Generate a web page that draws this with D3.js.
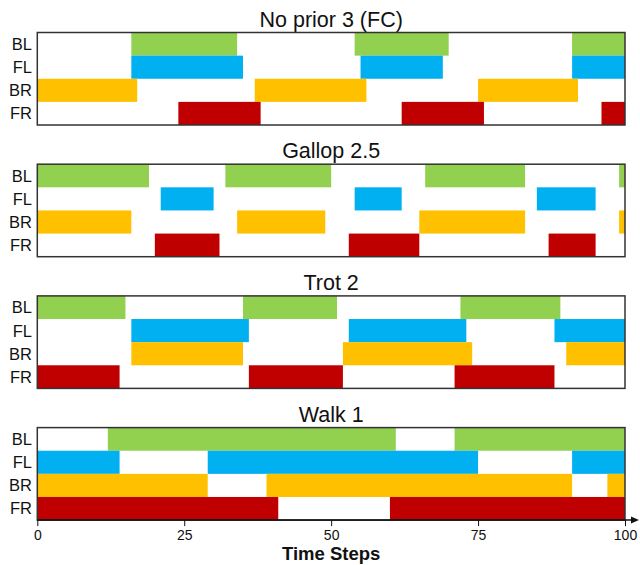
<!DOCTYPE html>
<html>
<head>
<meta charset="utf-8">
<script src="https://cdn.jsdelivr.net/npm/d3@7"></script>
<style>
  html, body { margin: 0; padding: 0; background: #fff; }
  svg { display: block; font-family: "Liberation Sans", Arial, sans-serif; }
</style>
</head>
<body>
<svg id="chart" width="640" height="565"></svg>
<script>
// ---- data ----
const legs = ["BL", "FL", "BR", "FR"];
const legColors = ["#92D050", "#00B0F0", "#FFC000", "#C00000"];
const panelTitles = ["No prior 3 (FC)", "Gallop 2.5", "Trot 2", "Walk 1"];
const xTicks = [0, 25, 50, 75, 100];
const xLabel = "Time Steps";

// stance intervals [start, end] per leg (BL, FL, BR, FR)
const noPrior = [
  [[16, 34], [54, 70], [91, 100]],
  [[16, 35], [55, 69], [91, 100]],
  [[0, 17], [37, 56], [75, 92]],
  [[24, 38], [62, 76], [96, 100]]
];
const gallop = [
  [[0, 19], [32, 50], [66, 83], [99, 100]],
  [[21, 30], [54, 62], [85, 95]],
  [[0, 16], [34, 49], [65, 83], [99, 100]],
  [[20, 31], [53, 65], [87, 95]]
];
const trot = [
  [[0, 15], [35, 51], [72, 89]],
  [[16, 36], [53, 73], [88, 100]],
  [[16, 35], [52, 74], [90, 100]],
  [[0, 14], [36, 52], [71, 88]]
];
const walk = [
  [[12, 61], [71, 100]],
  [[0, 14], [29, 75], [91, 100]],
  [[0, 29], [39, 91], [97, 100]],
  [[0, 41], [60, 100]]
];
const panelsData = [noPrior, gallop, trot, walk];

// ---- layout ----
const svg = d3.select("#chart");
const left = 37.3, right = 625;
const panelTop0 = 32.5, panelStep = 131.7, panelH = 92.5;

const x = d3.scaleLinear().domain([0, 100]).range([left, right]);
const color = d3.scaleOrdinal().domain(legs).range(legColors);

panelsData.forEach((pd, i) => {
  const top = panelTop0 + i * panelStep;
  const y = d3.scaleBand().domain(legs).range([top, top + panelH]).padding(0);
  const g = svg.append("g");

  // title
  g.append("text")
    .attr("x", (left + right) / 2)
    .attr("y", top - 5.8)
    .attr("text-anchor", "middle")
    .attr("font-size", "21.5px")
    .attr("fill", "#111")
    .text(panelTitles[i]);

  // bars
  const rects = [];
  pd.forEach((intervals, li) => {
    intervals.forEach(iv => rects.push({ leg: legs[li], s: iv[0], e: iv[1] }));
  });
  g.selectAll("rect.bar").data(rects).join("rect")
    .attr("class", "bar")
    .attr("x", d => x(d.s))
    .attr("width", d => x(d.e) - x(d.s))
    .attr("y", d => y(d.leg))
    .attr("height", y.bandwidth())
    .attr("fill", d => color(d.leg));

  // frame
  g.append("rect")
    .attr("x", left).attr("y", top)
    .attr("width", right - left).attr("height", panelH)
    .attr("fill", "none")
    .attr("stroke", "#333")
    .attr("stroke-width", 1.5);

  // row labels
  g.selectAll("text.leg").data(legs).join("text")
    .attr("class", "leg")
    .attr("x", 32)
    .attr("y", d => y(d) + y.bandwidth() / 2)
    .attr("dy", "0.36em")
    .attr("text-anchor", "end")
    .attr("font-size", "16.5px")
    .attr("fill", "#111")
    .text(d => d);

  if (i === panelsData.length - 1) {
    const bottom = top + panelH;
    const axis = d3.axisBottom(x).tickValues(xTicks).tickSize(6).tickPadding(4).tickSizeOuter(0);
    const ag = svg.append("g").attr("transform", `translate(0,${bottom})`).call(axis);
    ag.select(".domain").remove();
    ag.selectAll(".tick line").attr("stroke", "#111").attr("stroke-width", 1);
    ag.selectAll(".tick text").attr("font-size", "14px").attr("fill", "#111")
      .attr("font-family", "\"Liberation Sans\", Arial, sans-serif");
    // axis line with arrow
    ag.append("line").attr("x1", left).attr("x2", 634).attr("y1", 0).attr("y2", 0)
      .attr("stroke", "#111").attr("stroke-width", 1.5);
    ag.append("path").attr("d", "M631,-3.5 L639,0 L631,3.5 Z").attr("fill", "#111");
    svg.append("text")
      .attr("x", (left + right) / 2)
      .attr("y", 560)
      .attr("text-anchor", "middle")
      .attr("font-size", "18.5px")
      .attr("font-weight", "bold")
      .attr("fill", "#111")
      .text(xLabel);
  }
});
</script>
</body>
</html>
